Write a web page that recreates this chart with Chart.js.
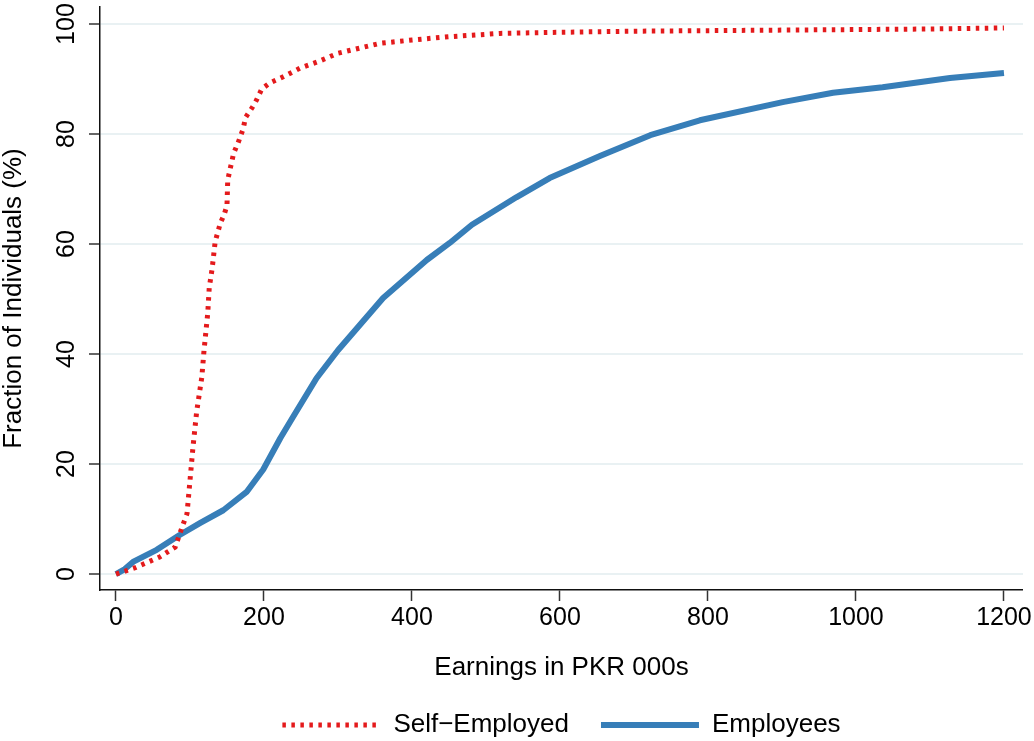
<!DOCTYPE html>
<html>
<head>
<meta charset="utf-8">
<script src="https://cdn.jsdelivr.net/npm/chart.js@4/dist/chart.umd.min.js"></script>
<style>
  body { margin: 0; background: #fff; }
  #wrap { width: 1034px; height: 741px; }
</style>
</head>
<body>
<div id="wrap"><canvas id="chart" width="1034" height="741"></canvas></div>
<script>
// ================= DATA =================
const xTicks = [0, 200, 400, 600, 800, 1000, 1200];
const yTicks = [0, 20, 40, 60, 80, 100];

const selfLabel = "Self\u2212Employed";
const selfX = [0, 25, 59, 80, 89, 96, 100, 104, 109, 116, 119, 124, 126, 130, 134, 141, 146, 150, 151, 154, 159, 165, 172, 175, 185, 190, 197, 208, 226, 249, 272, 300, 357, 400, 450, 519, 600, 700, 800, 900, 1000, 1100, 1200];
const selfY = [0, 1.1, 3.1, 4.9, 8.4, 11, 17, 23, 29.5, 35.8, 40.7, 47.4, 52, 55.6, 60.4, 63.8, 65.3, 67, 71.6, 73.5, 76.5, 78.4, 81, 83, 85, 86.2, 88.2, 89.3, 90.4, 92, 93.1, 94.7, 96.5, 97.1, 97.7, 98.3, 98.5, 98.7, 98.8, 98.9, 99.0, 99.1, 99.3];

const empLabel = "Employees";
const empX = [0, 12, 23, 55, 86, 114, 145, 177, 199, 222, 239, 271, 300, 361, 420, 451, 481, 541, 586, 654, 722, 789, 901, 969, 1036, 1127, 1200];
const empY = [0, 0.9, 2.2, 4.4, 7.1, 9.3, 11.6, 15, 19, 24.7, 28.5, 35.6, 40.7, 50.2, 57.1, 60.2, 63.5, 68.5, 72, 76, 79.8, 82.5, 85.8, 87.5, 88.5, 90.2, 91.1];

const FONT = '"Liberation Sans", Arial, Helvetica, sans-serif';
Chart.defaults.font.family = FONT;
Chart.defaults.color = "#000";

// y tick labels are rotated in the original, so draw them here
const yTickLabels = {
    id: "yTickLabels",
    afterDraw(chart){
        const ctx = chart.ctx;
        const y = chart.scales.y;
        ctx.save();
        ctx.font = "25px " + FONT;
        ctx.fillStyle = "#000";
        ctx.textAlign = "center";
        ctx.textBaseline = "middle";
        yTicks.forEach(v => {
            ctx.save();
            ctx.translate(67, y.getPixelForValue(v));
            ctx.rotate(-Math.PI / 2);
            ctx.fillText(String(v), 0, 0);
            ctx.restore();
        });
        ctx.restore();
    }
};

const toPoints = (xs, ys) => xs.map((x, i) => ({ x: x, y: ys[i] }));

new Chart(document.getElementById("chart"), {
    type: "line",
    data: {
        datasets: [
            {
                label: selfLabel,
                data: toPoints(selfX, selfY),
                borderColor: "#e41a1c",
                backgroundColor: "#e41a1c",
                borderWidth: 5,
                borderDash: [3.5, 5.5],
                borderCapStyle: "butt",
                pointRadius: 0,
                tension: 0
            },
            {
                label: empLabel,
                data: toPoints(empX, empY),
                borderColor: "#377eb8",
                backgroundColor: "#377eb8",
                borderWidth: 6,
                borderJoinStyle: "round",
                pointRadius: 0,
                tension: 0
            }
        ]
    },
    options: {
        responsive: false,
        animation: false,
        layout: { padding: { left: 0, right: 11, top: 7, bottom: -7 } },
        plugins: {
            tooltip: { enabled: false },
            legend: {
                position: "bottom",
                fullSize: false,
                labels: {
                    usePointStyle: true,
                    pointStyle: "line",
                    pointStyleWidth: 98,
                    padding: 32,
                    color: "#000",
                    font: { size: 26 },
                    generateLabels(chart){
                        const items = Chart.defaults.plugins.legend.labels.generateLabels(chart);
                        items.forEach((it, i) => {
                            const ds = chart.data.datasets[i];
                            it.lineDash = ds.borderDash || [];
                            it.lineCap = "butt";
                            it.lineWidth = ds.borderWidth;
                            it.strokeStyle = ds.borderColor;
                        });
                        return items;
                    }
                }
            }
        },
        scales: {
            x: {
                type: "linear",
                min: -21.6,
                max: 1225.7,
                afterBuildTicks: s => { s.ticks = xTicks.map(v => ({ value: v })); },
                afterFit: s => { s.height = 90; },
                border: { display: true, color: "#111", width: 1.5 },
                grid: { drawOnChartArea: false, drawTicks: true, tickLength: 11, tickColor: "#333", tickWidth: 1.5 },
                ticks: { padding: 2, maxRotation: 0, color: "#000", font: { size: 25 }, callback: v => String(v) },
                title: {
                    display: true,
                    text: "Earnings in PKR 000s",
                    color: "#000",
                    font: { size: 26, lineHeight: 1 },
                    padding: { top: 0, bottom: -1 }
                }
            },
            y: {
                type: "linear",
                min: -2.9,
                max: 103.1,
                afterBuildTicks: s => { s.ticks = yTicks.map(v => ({ value: v })); },
                afterFit: s => { s.width = 100; },
                border: { display: true, color: "#111", width: 1.5 },
                grid: { color: "#e9f1f3", lineWidth: 2, drawTicks: true, tickLength: 11, tickColor: "#333", tickWidth: 1.5 },
                ticks: { display: false },
                title: {
                    display: true,
                    text: "Fraction of Individuals (%)",
                    color: "#000",
                    font: { size: 26, lineHeight: 1 },
                    padding: { top: 1, bottom: 0 }
                }
            }
        }
    },
    plugins: [yTickLabels]
});
</script>
</body>
</html>
